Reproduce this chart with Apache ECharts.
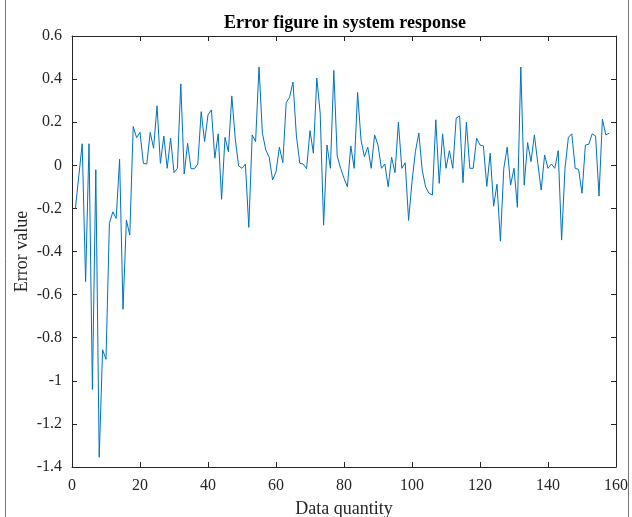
<!DOCTYPE html>
<html>
<head>
<meta charset="utf-8">
<script src="https://cdn.jsdelivr.net/npm/echarts@6/dist/echarts.min.js"></script>
<style>
  html, body { margin: 0; padding: 0; background: #fff; }
  #chart { width: 632px; height: 517px; }
</style>
</head>
<body>
<div id="chart"></div>
<script>
// Error of the system response for each sample (sample index starts at 1)
const errorValues = [
  -0.20, -0.05, 0.10, -0.54, 0.10, -1.04, -0.02, -1.355, -0.856, -0.90,
  -0.27, -0.216, -0.246, 0.028, -0.668, -0.254, -0.324, 0.18, 0.128, 0.153,
  0.009, 0.006, 0.153, 0.079, 0.276, 0.009, 0.136, -0.014, 0.126, -0.034,
  -0.014, 0.378, -0.04, 0.102, -0.016, -0.016, 0.006, 0.249, 0.11, 0.234,
  0.257, 0.033, 0.146, -0.158, 0.13, 0.063, 0.322, 0.126, -0.003, -0.014,
  0.006, -0.288, 0.141, 0.11, 0.456, 0.149, 0.071, 0.037, -0.068, -0.03,
  0.084, 0.012, 0.291, 0.316, 0.386, 0.136, 0.009, 0.006, -0.016, 0.161,
  0.056, 0.405, 0.242, -0.278, 0.094, -0.014, 0.44, 0.043, -0.014, -0.06,
  -0.1, 0.09, -0.014, 0.338, 0.118, 0.04, 0.084, -0.014, 0.141, 0.094,
  -0.014, 0.006, -0.1, 0.037, -0.034, 0.2, -0.014, 0.012, -0.256, -0.076,
  0.063, 0.15, -0.022, -0.1, -0.13, -0.138, 0.211, -0.084, 0.146, -0.014,
  0.068, -0.014, 0.219, 0.229, -0.081, 0.2, -0.014, -0.014, 0.126, 0.094,
  0.09, -0.098, 0.056, -0.19, -0.088, -0.352, -0.014, 0.084, -0.092, -0.014,
  -0.195, 0.456, -0.092, 0.105, 0.017, 0.141, 0.009, -0.115, 0.048, -0.014,
  0.006, -0.014, 0.068, -0.347, -0.014, 0.13, 0.146, -0.014, -0.019, -0.13,
  0.094, 0.098, 0.146, 0.136, -0.143, 0.214, 0.141, 0.149
];

const xTicks = [0, 20, 40, 60, 80, 100, 120, 140, 160];
const yTicks = [-1.4, -1.2, -1, -0.8, -0.6, -0.4, -0.2, 0, 0.2, 0.4, 0.6];

const titleText = 'Error figure in system response';
const xName = 'Data quantity';
const yName = 'Error value';

const serif = '"Liberation Serif", "Times New Roman", serif';
const axisInk = '#262626';

const points = errorValues.map((v, i) => [i + 1, v]);

const chart = echarts.init(document.getElementById('chart'), null, { renderer: 'canvas' });

const xMin = xTicks[0], xMax = xTicks[xTicks.length - 1];
const yMin = yTicks[0], yMax = yTicks[yTicks.length - 1];
const xStep = xTicks[1] - xTicks[0];
const yStep = Math.round((yTicks[1] - yTicks[0]) * 10) / 10;

function baseAxis(pos, showLabels) {
  return {
    type: 'value',
    position: pos,
    axisLine: { show: true, onZero: false, lineStyle: { color: axisInk, width: 1 } },
    axisTick: { show: true, inside: true, length: 5, lineStyle: { color: axisInk, width: 1 } },
    splitLine: { show: false },
    axisLabel: {
      show: showLabels,
      color: axisInk,
      fontFamily: serif,
      fontSize: 16
    }
  };
}

const xBottom = Object.assign(baseAxis('bottom', true), {
  min: xMin, max: xMax, interval: xStep,
  name: xName, nameLocation: 'middle', nameGap: 33, nameMoveOverlap: false,
  nameTextStyle: { fontFamily: serif, fontSize: 18, color: axisInk }
});
xBottom.axisLabel.margin = 11;
const xTop = Object.assign(baseAxis('top', false), { min: xMin, max: xMax, interval: xStep });

const yLeft = Object.assign(baseAxis('left', true), {
  min: yMin, max: yMax, interval: yStep,
  name: yName, nameLocation: 'middle', nameGap: 41, nameMoveOverlap: false,
  nameTextStyle: { fontFamily: serif, fontSize: 18, color: axisInk }
});
yLeft.axisLabel.margin = 10;
yLeft.axisLabel.formatter = v => String(Number(v.toFixed(1)));
const yRight = Object.assign(baseAxis('right', false), { min: yMin, max: yMax, interval: yStep });

chart.setOption({
  animation: false,
  backgroundColor: '#ffffff',
  title: {
    text: titleText,
    left: 340, top: 9, textAlign: 'center',
    textStyle: { fontFamily: serif, fontSize: 18, fontWeight: 'bold', color: '#000' }
  },
  grid: { left: 72, right: 16, top: 36, height: 431, containLabel: false, outerBoundsMode: 'none' },
  xAxis: [xBottom, xTop],
  yAxis: [yLeft, yRight],
  series: [{
    type: 'line',
    xAxisIndex: 0,
    yAxisIndex: 0,
    data: points,
    showSymbol: false,
    symbol: 'none',
    lineStyle: { color: '#0072BD', width: 1 },
    z: 1
  }],
  graphic: [
    { type: 'line', shape: { x1: 5.5, y1: 0, x2: 5.5, y2: 517 }, style: { stroke: '#777', lineWidth: 1 } },
    { type: 'line', shape: { x1: 628.5, y1: 0, x2: 628.5, y2: 517 }, style: { stroke: '#777', lineWidth: 1 } }
  ]
});
</script>
</body>
</html>
